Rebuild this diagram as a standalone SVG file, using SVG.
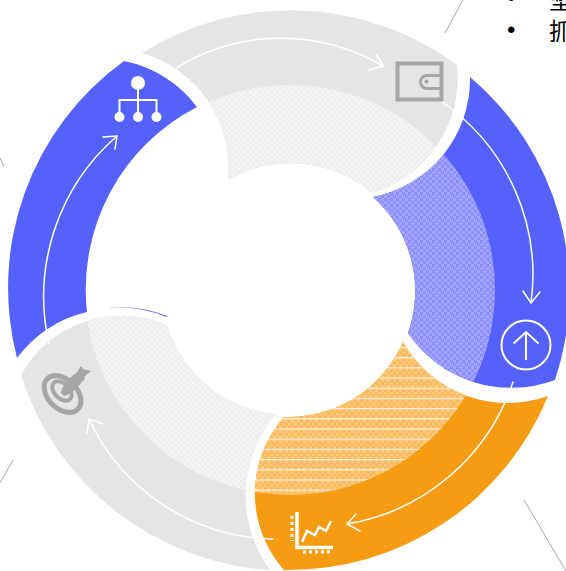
<svg xmlns="http://www.w3.org/2000/svg" width="566" height="571" viewBox="0 0 566 571">
<style>
.gray{fill:#e5e5e5}.blue{fill:#5561fb}.orange{fill:#f59c13}
.arrow{fill:none;stroke:#fff;stroke-width:1.5;stroke-linecap:round;stroke-linejoin:miter}
.leader{fill:none;stroke:#a8a8a8;stroke-width:1}
.iw{fill:none;stroke:#fff}
.ig{fill:none;stroke:#a6a6a6}
.t{font-family:"Liberation Sans","Noto Sans CJK SC",sans-serif;font-size:24px;fill:#000}
</style>
<defs>
<clipPath id="inner"><circle cx="290" cy="290" r="205"/></clipPath>
<pattern id="hb" width="6" height="6" patternUnits="userSpaceOnUse">
<rect width="6" height="6" fill="#a3a6fb"/><rect width="3" height="3" fill="#8389fa"/><rect x="3" y="3" width="3" height="3" fill="#8d93fa"/><rect x="1" y="1" width="1" height="1" fill="#a8acfc"/>
</pattern>
<pattern id="ho" width="6" height="10.2" patternUnits="userSpaceOnUse">
<rect width="6" height="10.2" fill="#fbc87c"/><rect y="1.5" width="3" height="3" fill="#f9b95c"/><rect x="3" y="4.5" width="3" height="3" fill="#f9b95c"/><rect y="7.5" width="3" height="2.7" fill="#f9b95c"/><rect y="0" width="6" height="1.2" fill="#fff0da"/>
</pattern>
<pattern id="hg" width="6" height="6" patternUnits="userSpaceOnUse">
<rect width="6" height="6" fill="#f3f3f3"/><rect width="3" height="3" fill="#eeeeee"/><rect x="3" y="3" width="3" height="3" fill="#eeeeee"/>
</pattern>
<path id="segTop" d="M142 53A280 280 0 0 1 457 65A120 120 0 0 1 372 193A126 126 0 0 0 228 180A120 120 0 0 0 142 53Z"/>
<path id="segRight" d="M470 77A280 280 0 0 1 555 380A125 125 0 0 1 408 333A126 126 0 0 0 373 197A120 120 0 0 0 470 77Z"/>
<path id="segOrange" d="M548 396A280 280 0 0 1 284 570A115 115 0 0 1 284 417A126 126 0 0 0 403 342A120 120 0 0 0 548 396Z"/>
<path id="segBottom" d="M270 570A280 280 0 0 1 21 375A115 115 0 0 1 167 325A126 126 0 0 0 276 414A125 125 0 0 0 270 570Z"/>
</defs>
<g id="leaders">
<path class="leader" d="M463 0L445 33M524 500L566 571M0 158L4 167M13 460L0 483"/>
</g>
<g id="node-top">
<use href="#segTop" class="gray"/>
<use href="#segTop" fill="url(#hg)" clip-path="url(#inner)"/>
<g id="icon-wallet">
<rect class="ig" x="397.500" y="63.500" width="44" height="36" stroke-width="4"/>
<path class="ig" d="M442 75.500H427A6.500 6.500 0 0 0 427 88.500H442" stroke-width="3"/>
<circle cx="426.500" cy="81.500" r="2" fill="#a6a6a6"/>
</g>
</g>
<g id="node-right">
<use href="#segRight" class="blue"/>
<use href="#segRight" fill="url(#hb)" clip-path="url(#inner)"/>
<g id="icon-up">
<circle class="iw" cx="526" cy="345" r="24.500" stroke-width="2"/>
<path class="iw" d="M526 332V360M513.500 343.500L526 332L538.500 343.500" stroke-width="2"/>
</g>
</g>
<g id="node-orange">
<use href="#segOrange" class="orange"/>
<use href="#segOrange" fill="url(#ho)" clip-path="url(#inner)"/>
<g id="icon-chart">
<path class="iw" d="M297 512V547.500H333" stroke-width="3.500"/>
<path class="iw" d="M292 516V541" stroke-width="3" stroke-dasharray="3 3"/>
<path class="iw" d="M303 552H330" stroke-width="3" stroke-dasharray="3 3"/>
<path class="iw" d="M302 542L307 531L315 535L319 527L326 531L331 521" stroke-width="2.500"/>
</g>
</g>
<g id="node-bottom">
<use href="#segBottom" class="gray"/>
<use href="#segBottom" fill="url(#hg)" clip-path="url(#inner)"/>
<g id="icon-target">
<ellipse class="ig" cx="62.500" cy="394" rx="21.500" ry="14.500" transform="rotate(45 62.500 394)" stroke-width="5"/>
<ellipse class="ig" cx="62" cy="391" rx="11.500" ry="7.500" transform="rotate(45 62 391)" stroke-width="4"/>
<path fill="#a6a6a6" d="M61 393C61 387 68 379 76 373L83 380C78 388 70 395 64 396Z"/>
<path fill="#a6a6a6" d="M75 375L81 366L83 369L91 371L85 376L84 381Z"/>
</g>
</g>
<g id="node-left">
<path class="blue" d="M17 358A280 280 0 0 1 124 61A120 120 0 0 1 197 107A205 205 0 0 0 87 312A120 120 0 0 0 17 358Z"/>
<path class="blue" d="M108 308A120 120 0 0 1 167 316L166.500 317A120 120 0 0 0 108 308Z"/>
<g id="icon-org">
<circle cx="138" cy="83" r="7" fill="#fff"/>
<circle cx="119.500" cy="117" r="5" fill="#fff"/>
<circle cx="138" cy="117" r="5" fill="#fff"/>
<circle cx="156.500" cy="117" r="5" fill="#fff"/>
<path class="iw" d="M138 88V115M119.500 115V100H156.500V115" stroke-width="2"/>
</g>
</g>
<g id="connectors">
<path class="arrow" d="M173 70A200 200 0 0 1 383 66M376 54L383 66L369 70"/>
<path class="arrow" d="M442 102A210 210 0 0 1 531 303M523 291L531 303L540 292"/>
<path class="arrow" d="M513 382A212 212 0 0 1 347 524M356 514L347 524L360 531"/>
<path class="arrow" d="M273 539A208 208 0 0 1 89 419M103 424L89 419L87 433"/>
<path class="arrow" d="M49 344A213 213 0 0 1 117 136M103 137L117 136L115 149"/>
</g>
<g id="text">
<text class="t" x="507" y="6">•</text>
<text class="t" x="549" y="9">坚</text>
<text class="t" x="507" y="38">•</text>
<text class="t" x="549" y="40">抓</text>
</g>
</svg>
